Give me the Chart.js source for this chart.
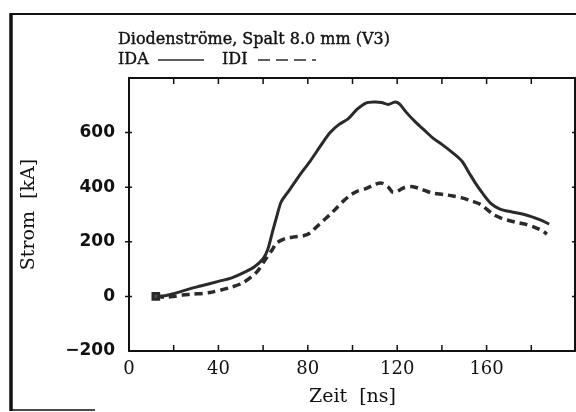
<!DOCTYPE html>
<html>
<head>
<meta charset="utf-8">
<script src="https://cdn.jsdelivr.net/npm/chart.js@4"></script>
<style>
  html, body { margin: 0; padding: 0; background: #fff; overflow: hidden; }
  #wrap { width: 576px; height: 412px; overflow: hidden; }
</style>
</head>
<body>
<div id="wrap"><canvas id="c" width="583" height="412"></canvas></div>
<script>
// Diodenstroeme, Spalt 8.0 mm (V3)
const titleText = 'Diodenströme, Spalt 8.0 mm (V3)';
const idaLabel = 'IDA';
const idiLabel = 'IDI';

// IDA (solid)
const idaTime = [12, 16, 20, 26, 32, 40, 46, 52, 56, 60, 62, 64, 66, 68, 70, 72, 76, 81, 86, 90, 94, 98, 102, 106, 110, 113, 116, 119, 121, 124, 128, 132, 136, 140, 145, 149, 152, 155, 158, 162, 166, 171, 176, 180, 184, 188];
const idaCurrent = [0, 2, 10, 25, 38, 55, 68, 90, 108, 138, 170, 230, 290, 345, 370, 392, 440, 495, 555, 600, 630, 650, 685, 708, 712, 710, 703, 712, 705, 675, 640, 610, 580, 557, 525, 495, 455, 415, 380, 340, 320, 310, 302, 292, 280, 265];

// IDI (dashed)
const idiTime = [12, 16, 20, 24, 28, 36, 45, 51, 57, 61, 64, 66, 70, 74, 78, 81, 84, 87, 90, 93, 96, 99, 102, 106, 110, 113, 116, 118, 120, 123, 127, 131, 135, 141, 145, 149, 153, 157, 160, 163, 167, 170, 174, 177, 181, 185, 187];
const idiCurrent = [0, -3, 0, 5, 8, 14, 32, 50, 88, 135, 170, 195, 212, 218, 222, 232, 255, 278, 300, 325, 350, 370, 385, 395, 410, 415, 400, 382, 385, 398, 402, 392, 380, 373, 368, 361, 350, 338, 320, 300, 285, 278, 270, 265, 255, 240, 228];

const xLabels = [0, 40, 80, 120, 160];
const yLabels = [-200, 0, 200, 400, 600];

const ink = '#2a2a2a';
const serif = '"DejaVu Serif", "Liberation Serif", serif';

function pairs(xs, ys) {
  return xs.map((x, i) => ({x: x, y: ys[i]}));
}

// frame, title line, legend line, plot box, inward ticks
const decor = {
  id: 'decor',
  beforeDraw(chart) {
    const ctx = chart.ctx;
    ctx.save();
    ctx.strokeStyle = '#111';
    ctx.lineWidth = 2;
    ctx.beginPath();
    ctx.moveTo(10, 14); ctx.lineTo(583, 14);
    ctx.stroke();
    ctx.lineWidth = 3.5;
    ctx.beginPath();
    ctx.moveTo(11, 13); ctx.lineTo(11, 411);
    ctx.stroke();
    ctx.lineWidth = 1.5;
    ctx.beginPath();
    ctx.moveTo(10, 410); ctx.lineTo(95, 410);
    ctx.stroke();
    ctx.restore();
  },
  afterDraw(chart) {
    const ctx = chart.ctx;
    const a = chart.chartArea;
    const xs = chart.scales.x, ys = chart.scales.y;
    ctx.save();
    ctx.fillStyle = '#111';
    ctx.strokeStyle = '#111';
    ctx.lineWidth = 0.4;
    ctx.font = '16px ' + serif;
    ctx.textBaseline = 'alphabetic';
    [[titleText, 118, 44], [idaLabel, 118, 64], [idiLabel, 222, 64]].forEach(([t, x, y]) => {
      ctx.fillText(t, x, y);
      ctx.strokeText(t, x, y);
    });

    ctx.strokeStyle = ink;
    ctx.lineWidth = 1.5;
    ctx.beginPath();
    ctx.moveTo(158, 60); ctx.lineTo(204, 60);
    ctx.stroke();
    ctx.setLineDash([12, 6]);
    ctx.beginPath();
    ctx.moveTo(258, 60); ctx.lineTo(316, 60);
    ctx.stroke();
    ctx.setLineDash([]);

    // top and right side of the plot box
    const right = Math.min(a.right, 575);
    ctx.strokeStyle = '#111';
    ctx.lineWidth = 2;
    ctx.beginPath();
    ctx.moveTo(a.left, a.top); ctx.lineTo(a.right, a.top);
    ctx.moveTo(right, a.top); ctx.lineTo(right, a.bottom);
    ctx.stroke();

    // ticks
    ctx.lineWidth = 1.5;
    ctx.beginPath();
    for (let t = 20; t < 200; t += 20) {
      const px = xs.getPixelForValue(t);
      ctx.moveTo(px, a.bottom); ctx.lineTo(px, a.bottom - 6);
      ctx.moveTo(px, a.top); ctx.lineTo(px, a.top + 6);
    }
    for (let v = 0; v <= 600; v += 200) {
      const py = ys.getPixelForValue(v);
      ctx.moveTo(a.left - 4, py); ctx.lineTo(a.left + 3, py);
      ctx.moveTo(right, py); ctx.lineTo(right - 3, py);
    }
    ctx.stroke();
    ctx.restore();
  }
};

new Chart(document.getElementById('c'), {
  type: 'line',
  data: {
    datasets: [
      {
        label: idaLabel,
        data: pairs(idaTime, idaCurrent),
        borderColor: ink,
        borderWidth: 3,
        tension: 0.3,
        fill: false,
        pointStyle: 'rect',
        pointRadius: idaTime.map((t, i) => i === 0 ? 4 : 0),
        pointBackgroundColor: '#555',
        pointBorderColor: ink
      },
      {
        label: idiLabel,
        data: pairs(idiTime, idiCurrent),
        borderColor: ink,
        borderWidth: 3.5,
        borderDash: [8, 5],
        tension: 0.3,
        fill: false,
        pointRadius: 0
      }
    ]
  },
  options: {
    responsive: false,
    animation: false,
    layout: { padding: { left: 0, top: 78, right: 0, bottom: 0 } },
    plugins: {
      legend: { display: false },
      title: { display: false },
      tooltip: { enabled: false }
    },
    scales: {
      x: {
        type: 'linear',
        min: 0,
        max: 200,
        border: { display: true, color: '#111', width: 2 },
        grid: { display: false },
        ticks: {
          stepSize: 20,
          autoSkip: false,
          maxRotation: 0,
          color: '#111',
          font: { family: serif, size: 18 },
          padding: 0,
          callback: v => xLabels.includes(v) ? String(v) : ''
        },
        title: {
          display: true,
          text: 'Zeit  [ns]',
          color: '#111',
          font: { family: serif, size: 19 },
          padding: { top: 2 }
        },
        afterFit: s => { s.height = 61; }
      },
      y: {
        min: -200,
        max: 800,
        border: { display: true, color: '#111', width: 2 },
        grid: { display: false },
        ticks: {
          stepSize: 200,
          color: '#111',
          font: { family: '"DejaVu Sans", Verdana, sans-serif', size: 17, weight: 'bold' },
          padding: 6,
          callback: v => yLabels.includes(v) ? (v < 0 ? '\u2212' + Math.abs(v) : String(v)) : ''
        },
        title: {
          display: true,
          text: 'Strom  [kA]',
          color: '#111',
          font: { family: serif, size: 19 },
          padding: { top: 18, bottom: 0 }
        },
        afterFit: s => { s.width = 129; }
      }
    }
  },
  plugins: [decor]
});
</script>
</body>
</html>
